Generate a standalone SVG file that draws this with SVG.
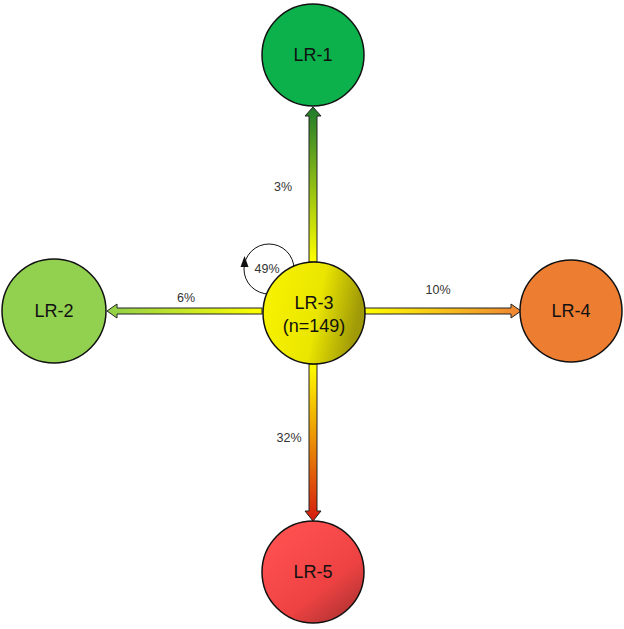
<svg xmlns="http://www.w3.org/2000/svg" width="624" height="629" viewBox="0 0 624 629">
<style>
.node{stroke:#111;stroke-width:1.5}
.lbl{font-family:"Liberation Sans",Arial,sans-serif;font-size:18px;fill:#111;text-anchor:middle}
.pct{font-family:"Liberation Sans",Arial,sans-serif;font-size:12.5px;fill:#333;text-anchor:middle}
.arr{stroke:#222;stroke-width:1;stroke-linejoin:miter}
</style>
<defs>
<linearGradient id="gUp" x1="0" y1="1" x2="0" y2="0"><stop offset="0" stop-color="#ffff00"/><stop offset="1" stop-color="#1e7a2a"/></linearGradient>
<linearGradient id="gLeft" x1="1" y1="0" x2="0" y2="0"><stop offset="0" stop-color="#ffff00"/><stop offset="1" stop-color="#8fcf4a"/></linearGradient>
<linearGradient id="gRight" x1="0" y1="0" x2="1" y2="0"><stop offset="0" stop-color="#ffff00"/><stop offset="1" stop-color="#ee8433"/></linearGradient>
<linearGradient id="gDown" x1="0" y1="0" x2="0" y2="1"><stop offset="0" stop-color="#ffff00"/><stop offset="1" stop-color="#d41a0e"/></linearGradient>
<linearGradient id="g3" x1="0" y1="0" x2="1" y2="0.2"><stop offset="0" stop-color="#f8f400"/><stop offset="0.6" stop-color="#ebe600"/><stop offset="1" stop-color="#a09a08"/></linearGradient>
<linearGradient id="g5" x1="0.2" y1="0.1" x2="0.9" y2="1"><stop offset="0" stop-color="#ff5050"/><stop offset="0.6" stop-color="#ee4242"/><stop offset="1" stop-color="#a83030"/></linearGradient>
</defs>
<g id="connectors">
<path class="arr" fill="url(#gUp)" d="M309,262 L309,116 L305,116 L313,107 L321,116 L317,116 L317,262 Z"/>
<path class="arr" fill="url(#gLeft)" d="M262,308 L117,308 L117,304 L107,311 L117,318 L117,314 L262,314 Z"/>
<path class="arr" fill="url(#gRight)" d="M364,308 L511,308 L511,304 L521,311 L511,318 L511,314 L364,314 Z"/>
<path class="arr" fill="url(#gDown)" d="M309,364 L309,511 L305,511 L313,521 L321,511 L317,511 L317,364 Z"/>
<circle cx="269" cy="269" r="25" fill="#fff" stroke="#111" stroke-width="1"/>
<path d="M240.5,267 L244.5,256 L248.5,267 Z" fill="#111"/>
</g>
<g id="LR-1"><circle class="node" cx="313" cy="55" r="51" fill="#0cb14b"/><text class="lbl" x="313" y="61">LR-1</text></g>
<g id="LR-2"><circle class="node" cx="54" cy="311" r="52" fill="#92d050"/><text class="lbl" x="54" y="317">LR-2</text></g>
<g id="LR-4"><circle class="node" cx="571" cy="311" r="51" fill="#ed7d31"/><text class="lbl" x="571" y="317">LR-4</text></g>
<g id="LR-5"><circle class="node" cx="313" cy="572" r="51" fill="url(#g5)"/><text class="lbl" x="313" y="578">LR-5</text></g>
<g id="LR-3"><circle class="node" cx="314" cy="313" r="51" fill="url(#g3)"/><text class="lbl" x="314" y="309">LR-3</text><text class="lbl" x="314" y="332">(n=149)</text></g>
<text class="pct" x="283" y="191">3%</text>
<text class="pct" x="186" y="302">6%</text>
<text class="pct" x="438" y="294">10%</text>
<text class="pct" x="289" y="442">32%</text>
<text class="pct" x="267" y="273">49%</text>
</svg>
